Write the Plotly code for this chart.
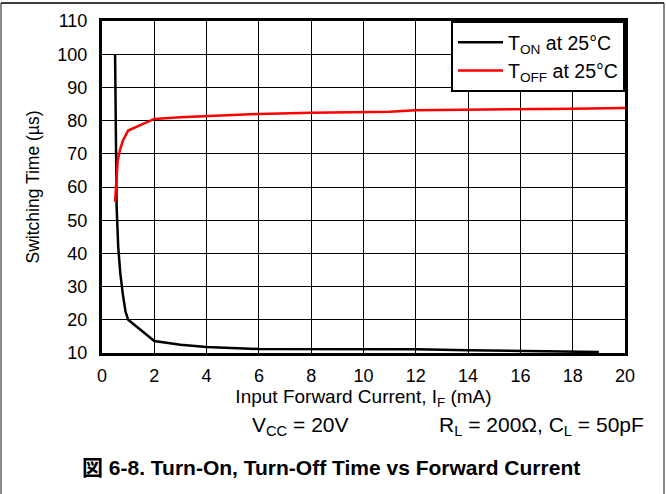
import plotly.graph_objects as go

# ---- data ----
ton_x = [0.5, 0.53, 0.56, 0.62, 0.7, 0.8, 0.9, 1.0, 2, 3, 4, 6, 8, 10, 12, 14, 16, 18, 19]
ton_y = [100, 75, 54, 42, 34, 27.5, 22.5, 20, 13.6, 12.5, 11.8, 11.2, 11.2, 11.3, 11.1, 10.8, 10.6, 10.4, 10.3]

toff_x = [0.5, 0.55, 0.6, 0.7, 0.8, 1.0, 2, 3, 4, 6, 8, 10, 11, 12, 14, 16, 18, 20]
toff_y = [55.5, 63, 68, 71.5, 74, 77, 80.5, 81, 81.4, 82, 82.4, 82.6, 82.7, 83.1, 83.2, 83.4, 83.6, 83.8]

x_ticks = list(range(0, 21, 2))
y_ticks = list(range(10, 111, 10))

W, H = 666, 494
L, R, T, B = 102, 625, 21, 353   # plot area in pixels


def px(xp):
    return (xp - L) / (R - L)


def py(yp):
    return (B - yp) / (B - T)


FONT = "Liberation Sans, Arial, Noto Sans CJK JP, sans-serif"

fig = go.Figure()
fig.add_trace(go.Scatter(x=ton_x, y=ton_y, mode="lines",
                         line=dict(color="black", width=2.5),
                         name="T<sub>ON</sub> at 25°C"))
fig.add_trace(go.Scatter(x=toff_x, y=toff_y, mode="lines",
                         line=dict(color="#ff0000", width=2.5),
                         name="T<sub>OFF</sub> at 25°C"))

axis_common = dict(showline=True, linecolor="black", linewidth=3, mirror=True,
                   showgrid=True, gridcolor="black", gridwidth=1,
                   zeroline=False, ticks="", tickfont=dict(size=18, color="black"))

fig.update_xaxes(range=[0, 20], tickvals=x_ticks, ticktext=[str(v) for v in x_ticks],
                 title=dict(text="Input Forward Current, I<sub>F</sub> (mA)",
                            font=dict(size=19, color="black"), standoff=2),
                 ticklabelstandoff=4, **axis_common)
fig.update_yaxes(range=[10, 110], tickvals=y_ticks, ticktext=[str(v) for v in y_ticks],
                 title=dict(text="Switching Time (µs)",
                            font=dict(size=17.5, color="black"), standoff=14),
                 ticklabelstandoff=8, **axis_common)

fig.update_layout(
    width=W, height=H,
    margin=dict(l=L, r=W - R, t=T, b=H - B),
    paper_bgcolor="white", plot_bgcolor="white",
    font=dict(family=FONT, color="black", size=18),
    legend=dict(x=1, y=1, xanchor="right", yanchor="top",
                bgcolor="white", bordercolor="black", borderwidth=2,
                font=dict(size=19.5), tracegroupgap=0, itemwidth=45),
    shapes=[
        dict(type="line", xref="paper", yref="paper", x0=px(1), x1=px(1), y0=py(3), y1=py(494),
             line=dict(color="#888888", width=2)),
        dict(type="line", xref="paper", yref="paper", x0=px(664), x1=px(664), y0=py(3), y1=py(494),
             line=dict(color="#888888", width=2)),
        dict(type="line", xref="paper", yref="paper", x0=px(1), x1=px(664), y0=py(3), y1=py(3),
             line=dict(color="black", width=1.5)),
    ],
    annotations=[
        dict(xref="paper", yref="paper", x=px(300), y=py(426), showarrow=False,
             text="V<sub>CC</sub> = 20V", font=dict(size=21), xanchor="center", yanchor="middle"),
        dict(xref="paper", yref="paper", x=px(646), y=py(426), showarrow=False,
             text="R<sub>L</sub> = 200Ω, C<sub>L</sub> = 50pF", font=dict(size=21),
             xanchor="right", yanchor="middle"),
        dict(xref="paper", yref="paper", x=px(331), y=py(467), showarrow=False,
             text="<b>図 6-8. Turn-On, Turn-Off Time vs Forward Current</b>", font=dict(size=21),
             xanchor="center", yanchor="middle"),
    ],
)

fig.write_html("out.html")
